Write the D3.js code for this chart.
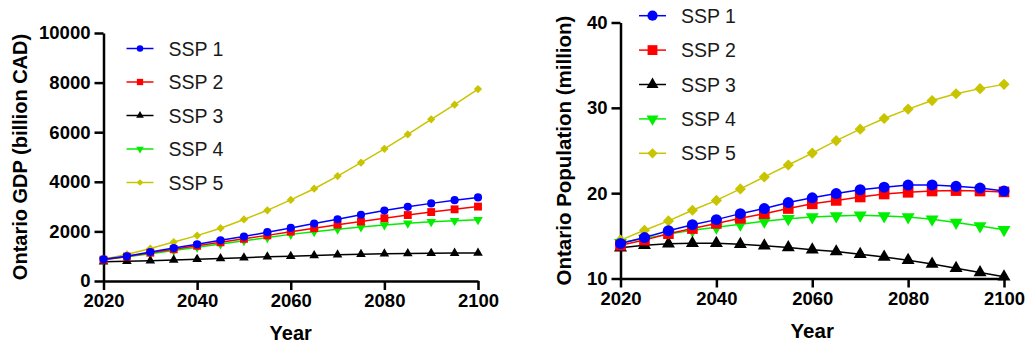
<!DOCTYPE html>
<html>
<head>
<meta charset="utf-8">
<script src="https://cdn.jsdelivr.net/npm/d3@7"></script>
<style>
  body { margin: 0; background: #fff; }
  svg { font-family: "Liberation Sans", Arial, sans-serif; }
  .axis path, .axis line { stroke: #000; stroke-width: 2.5; }
  .axis text { font-weight: bold; fill: #000; }
</style>
</head>
<body>
<svg width="1027" height="347"></svg>
<script>
// years and scenario names
var years = [2020, 2025, 2030, 2035, 2040, 2045, 2050, 2055, 2060, 2065, 2070, 2075, 2080, 2085, 2090, 2095, 2100];
var scenarios = ["SSP 1", "SSP 2", "SSP 3", "SSP 4", "SSP 5"];

// GDP, billion CAD
var gdp1 = [875, 1000, 1170, 1330, 1480, 1640, 1790, 1970, 2140, 2320, 2490, 2670, 2840, 2990, 3130, 3260, 3370];
var gdp2 = [860, 985, 1140, 1280, 1420, 1560, 1700, 1840, 1990, 2130, 2270, 2400, 2530, 2660, 2780, 2890, 3000];
var gdp3 = [780, 800, 820, 850, 880, 910, 940, 975, 1000, 1030, 1055, 1080, 1095, 1110, 1120, 1125, 1130];
var gdp4 = [860, 975, 1100, 1230, 1360, 1490, 1620, 1750, 1880, 1990, 2090, 2180, 2260, 2330, 2390, 2430, 2470];
var gdp5 = [880, 1070, 1310, 1570, 1830, 2130, 2480, 2850, 3270, 3720, 4230, 4770, 5330, 5910, 6520, 7110, 7740];

// population, million
var pop1 = [14.1, 14.8, 15.6, 16.3, 16.9, 17.6, 18.2, 18.9, 19.45, 19.95, 20.4, 20.7, 20.95, 20.97, 20.8, 20.6, 20.25];
var pop2 = [13.9, 14.5, 15.25, 15.85, 16.45, 17.05, 17.6, 18.2, 18.75, 19.15, 19.55, 19.9, 20.1, 20.25, 20.3, 20.25, 20.15];
var pop3 = [13.6, 13.9, 14.08, 14.13, 14.13, 14.01, 13.85, 13.62, 13.38, 13.15, 12.85, 12.53, 12.15, 11.7, 11.2, 10.7, 10.2];
var pop4 = [14.2, 14.7, 15.2, 15.65, 16.0, 16.35, 16.7, 17.0, 17.22, 17.32, 17.4, 17.32, 17.2, 16.95, 16.55, 16.15, 15.7];
var pop5 = [14.5, 15.65, 16.75, 18.0, 19.15, 20.5, 21.9, 23.3, 24.7, 26.15, 27.5, 28.75, 29.85, 30.85, 31.65, 32.25, 32.75];

var gdpTicks = [0, 2000, 4000, 6000, 8000, 10000];
var popTicks = [10, 20, 30, 40];
var yearTicks = [2020, 2040, 2060, 2080, 2100];

var colors = ["#0000ff", "#ff0000", "#000000", "#00ee00", "#c8c400"];

var svg = d3.select("svg");

function marker(i, k) {
  // k scales marker size
  var types = [d3.symbolCircle, d3.symbolSquare, d3.symbolTriangle, d3.symbolTriangle, d3.symbolSquare];
  var sizes = [52, 62, 40, 40, 34];
  return d3.symbol().type(types[i]).size(sizes[i] * k * k)();
}
function markerRot(i) {
  return i == 3 ? 180 : i == 4 ? 45 : 0;
}

function panel(opts) {
  var g = svg.append("g");
  var x = d3.scaleLinear().domain([2020, 2100]).range([opts.x0, opts.x1]);
  var y = d3.scaleLinear().domain(opts.ydom).range([opts.y0, opts.y1]);

  g.append("g").attr("class", "axis")
    .attr("transform", "translate(0," + opts.y0 + ")")
    .call(d3.axisBottom(x).tickValues(yearTicks).tickFormat(d3.format("d"))
      .tickSize(9).tickSizeOuter(0).tickPadding(4))
    .selectAll("text").style("font-size", opts.tick + "px");

  g.append("g").attr("class", "axis")
    .attr("transform", "translate(" + opts.x0 + ",0)")
    .call(d3.axisLeft(y).tickValues(opts.yticks).tickFormat(d3.format("d"))
      .tickSize(9).tickSizeOuter(0).tickPadding(4))
    .selectAll("text").style("font-size", opts.tick + "px");

  g.append("text")
    .attr("x", (opts.x0 + opts.x1) / 2).attr("y", opts.y0 + 59)
    .attr("text-anchor", "middle").style("font-weight", "bold")
    .style("font-size", opts.title + "px").text("Year");

  g.append("text")
    .attr("transform", "translate(" + opts.tx + "," + ((opts.y0 + opts.y1) / 2) + ") rotate(-90)")
    .attr("text-anchor", "middle").style("font-weight", "bold")
    .style("font-size", opts.title + "px").text(opts.ytitle);

  var line = d3.line()
    .x(function(d, i) { return x(years[i]); })
    .y(function(d) { return y(d); });

  // draw SSP 5 first so the others sit on top
  [4, 3, 2, 1, 0].forEach(function(s) {
    var vals = opts.series[s];
    g.append("path").datum(vals)
      .attr("d", line).attr("fill", "none")
      .attr("stroke", colors[s]).attr("stroke-width", 1.5);
    g.selectAll(".m" + s).data(vals).enter().append("path")
      .attr("d", marker(s, opts.mk))
      .attr("transform", function(d, i) {
        return "translate(" + x(years[i]) + "," + y(d) + ") rotate(" + markerRot(s) + ")";
      })
      .attr("fill", colors[s]);
  });

  // legend
  var leg = g.append("g");
  scenarios.forEach(function(name, s) {
    var ly = opts.ly + s * opts.lstep;
    leg.append("line")
      .attr("x1", opts.lx).attr("x2", opts.lx + 27)
      .attr("y1", ly).attr("y2", ly)
      .attr("stroke", colors[s]).attr("stroke-width", 1.5);
    leg.append("path")
      .attr("d", marker(s, opts.lmk))
      .attr("transform", "translate(" + (opts.lx + 13.5) + "," + ly + ") rotate(" + markerRot(s) + ")")
      .attr("fill", colors[s]);
    leg.append("text")
      .attr("x", opts.lx + 42).attr("y", ly).attr("dy", "0.36em")
      .style("font-size", opts.ltext + "px").attr("fill", "#1a1a1a")
      .text(name);
  });
}

panel({
  x0: 103.5, x1: 478, y0: 281, y1: 33,
  ydom: [0, 10000], yticks: gdpTicks,
  series: [gdp1, gdp2, gdp3, gdp4, gdp5],
  ytitle: "Ontario GDP (billion CAD)", tx: 27,
  tick: 18.5, title: 20, mk: 1,
  lx: 126.5, ly: 48.5, lstep: 33.5, lmk: 0.8, ltext: 19.5
});

panel({
  x0: 620.5, x1: 1004, y0: 278.5, y1: 22.5,
  ydom: [10, 40], yticks: popTicks,
  series: [pop1, pop2, pop3, pop4, pop5],
  ytitle: "Ontario Population (million)", tx: 571,
  tick: 18.5, title: 20.5, mk: 1.35,
  lx: 639, ly: 15.7, lstep: 34.4, lmk: 1.25, ltext: 19.5
});
</script>
</body>
</html>
